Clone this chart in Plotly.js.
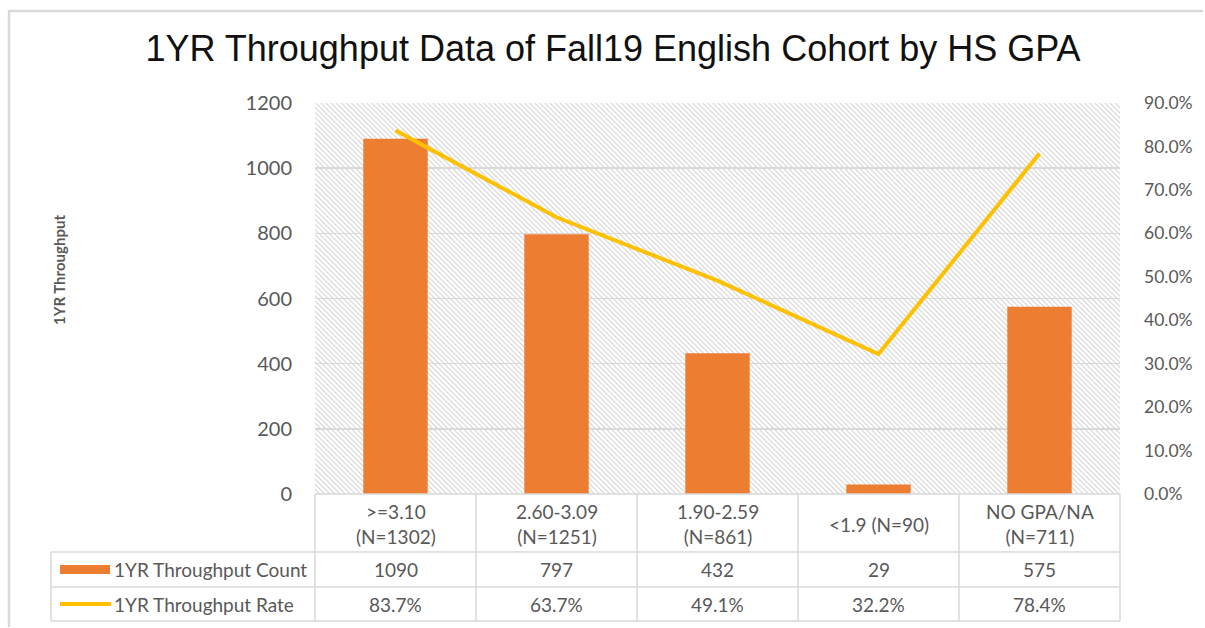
<!DOCTYPE html>
<html>
<head>
<meta charset="utf-8">
<script src="https://cdn.plot.ly/plotly-3.0.1.min.js"></script>
<style>
html,body{margin:0;padding:0;background:#fff;overflow:hidden;}
#chart{width:1205px;height:628px;}
</style>
</head>
<body>
<div id="chart"></div>
<script>
// ---- data ----
const categories = [">=3.10<br>(N=1302)", "2.60-3.09<br>(N=1251)", "1.90-2.59<br>(N=861)", "<1.9 (N=90)", "NO GPA/NA<br>(N=711)"];
const catKeys = ["c1", "c2", "c3", "c4", "c5"];
const throughputCount = [1090, 797, 432, 29, 575];
const throughputRate = [0.837, 0.637, 0.491, 0.322, 0.784];
const countLabels = ["1090", "797", "432", "29", "575"];
const rateLabels = ["83.7%", "63.7%", "49.1%", "32.2%", "78.4%"];
const seriesNames = ["1YR Throughput Count", "1YR Throughput Rate"];
const yTicks = [0, 200, 400, 600, 800, 1000, 1200];
const y2Ticks = [0, 0.1, 0.2, 0.3, 0.4, 0.5, 0.6, 0.7, 0.8, 0.9];

// ---- layout geometry (pixels) ----
const W = 1205, H = 628;
const L = 315, R = 1120, T = 103, B = 494;
const pw = R - L, ph = B - T;
const px = x => (x - L) / pw;
const py = y => (B - y) / ph;

const ORANGE = "#ED7D31", GOLD = "#FFC000", GRID = "#d9d9d9", TXT = "#595959";
const FAM = "Lato, 'Open Sans', sans-serif";
const cellFont = {family: FAM, size: 19, color: TXT};

const traces = [
  {
    type: "bar", x: catKeys, y: throughputCount, name: seriesNames[0],
    marker: {color: ORANGE}, width: 0.4, hoverinfo: "skip", showlegend: false
  },
  {
    type: "scatter", mode: "lines", x: catKeys, y: throughputRate, name: seriesNames[1],
    yaxis: "y2", line: {color: GOLD, width: 4}, hoverinfo: "skip", showlegend: false
  }
];

// hatch background
const svg = "<svg xmlns='http://www.w3.org/2000/svg' width='" + pw + "' height='" + ph + "'>" +
  "<defs><pattern id='p' width='3.6' height='10' patternUnits='userSpaceOnUse' patternTransform='rotate(-45)'>" +
  "<line x1='0.5' y1='0' x2='0.5' y2='10' stroke='#d2d2d2' stroke-width='1.1'/></pattern></defs>" +
  "<rect width='100%' height='100%' fill='url(#p)'/></svg>";
const hatchSrc = "data:image/svg+xml;charset=utf-8," + encodeURIComponent(svg);

// table geometry
const tblLeft = 51, rowTop = [494, 552, 587, 621];
const shapes = [];
const lineStyle = {color: GRID, width: 1.5};
// outer frame (top and left edges visible)
shapes.push({type: "path", xref: "paper", yref: "paper",
  path: "M " + px(9) + " " + py(627) + " L " + px(9) + " " + py(11) + " L " + px(1203) + " " + py(11),
  line: {color: "#d9d9d9", width: 2.5}, layer: "below"});
// horizontal table lines
shapes.push({type: "line", xref: "paper", yref: "paper", x0: 0, x1: 1, y0: py(rowTop[0]), y1: py(rowTop[0]), line: lineStyle});
for (let i = 1; i < rowTop.length; i++) {
  shapes.push({type: "line", xref: "paper", yref: "paper", x0: px(tblLeft), x1: 1, y0: py(rowTop[i]), y1: py(rowTop[i]), line: lineStyle});
}
// vertical lines
shapes.push({type: "line", xref: "paper", yref: "paper", x0: px(tblLeft), x1: px(tblLeft), y0: py(rowTop[1]), y1: py(rowTop[3]), line: lineStyle});
for (let i = 0; i <= catKeys.length; i++) {
  const xp = i / catKeys.length;
  shapes.push({type: "line", xref: "paper", yref: "paper", x0: xp, x1: xp, y0: py(rowTop[0]), y1: py(rowTop[3]), line: lineStyle});
}
// legend keys
shapes.push({type: "rect", xref: "paper", yref: "paper", x0: px(60), x1: px(110), y0: py(574), y1: py(565),
  fillcolor: ORANGE, line: {width: 0}});
shapes.push({type: "line", xref: "paper", yref: "paper", x0: px(60), x1: px(111), y0: py(604), y1: py(604),
  line: {color: GOLD, width: 4}});

const annotations = [];
const rowCenter = [(rowTop[0] + rowTop[1]) / 2, (rowTop[1] + rowTop[2]) / 2, (rowTop[2] + rowTop[3]) / 2];
for (let i = 0; i < catKeys.length; i++) {
  const xc = (i + 0.5) / catKeys.length;
  annotations.push({xref: "paper", yref: "paper", x: xc, y: py(rowCenter[0] + 1), text: categories[i],
    showarrow: false, font: cellFont, xanchor: "center", yanchor: "middle", align: "center"});
  annotations.push({xref: "paper", yref: "paper", x: xc, y: py(rowCenter[1]), text: countLabels[i],
    showarrow: false, font: cellFont, xanchor: "center", yanchor: "middle"});
  annotations.push({xref: "paper", yref: "paper", x: xc, y: py(rowCenter[2]), text: rateLabels[i],
    showarrow: false, font: cellFont, xanchor: "center", yanchor: "middle"});
}
annotations.push({xref: "paper", yref: "paper", x: px(112), y: py(rowCenter[1]), text: seriesNames[0],
  showarrow: false, font: cellFont, xanchor: "left", yanchor: "middle"});
annotations.push({xref: "paper", yref: "paper", x: px(112), y: py(rowCenter[2]), text: seriesNames[1],
  showarrow: false, font: cellFont, xanchor: "left", yanchor: "middle"});
// y-axis title
annotations.push({xref: "paper", yref: "paper", x: px(59), y: py(270), text: "<b>1YR Throughput</b>",
  textangle: -90, showarrow: false, font: {family: FAM, size: 15, color: TXT}, xanchor: "center", yanchor: "middle"});

const layout = {
  width: W, height: H,
  margin: {l: L, r: W - R, t: T, b: H - B, pad: 0},
  paper_bgcolor: "#ffffff", plot_bgcolor: "rgba(0,0,0,0)",
  title: {text: "1YR Throughput Data of Fall19 English Cohort by HS GPA",
    font: {family: "'Liberation Sans', Arial, sans-serif", size: 36, color: "#111111"},
    x: 613 / W, xref: "container", xanchor: "center", y: 1 - 48 / H, yref: "container", yanchor: "middle"},
  xaxis: {type: "category", showticklabels: false, showgrid: false, zeroline: false, showline: false,
    ticks: "", range: [-0.5, 4.5], fixedrange: true},
  yaxis: {range: [0, 1200], tickvals: yTicks, ticktext: yTicks.map(String), showgrid: true,
    gridcolor: GRID, gridwidth: 1.5, zeroline: false, showline: false, ticks: "",
    tickfont: {family: FAM, size: 20, color: TXT}, ticklabelstandoff: 22},
  yaxis2: {overlaying: "y", side: "right", range: [0, 0.9], tickvals: y2Ticks, tickformat: ".1%",
    showgrid: false, zeroline: false, showline: false, ticks: "",
    tickfont: {family: FAM, size: 17.5, color: TXT}, ticklabelstandoff: 23},
  images: [{source: hatchSrc, xref: "paper", yref: "paper", x: 0, y: 1, sizex: 1, sizey: 1,
    sizing: "stretch", xanchor: "left", yanchor: "top", layer: "below"}],
  shapes: shapes,
  annotations: annotations,
  showlegend: false
};

Plotly.newPlot("chart", traces, layout, {staticPlot: true, displayModeBar: false});
</script>
</body>
</html>
